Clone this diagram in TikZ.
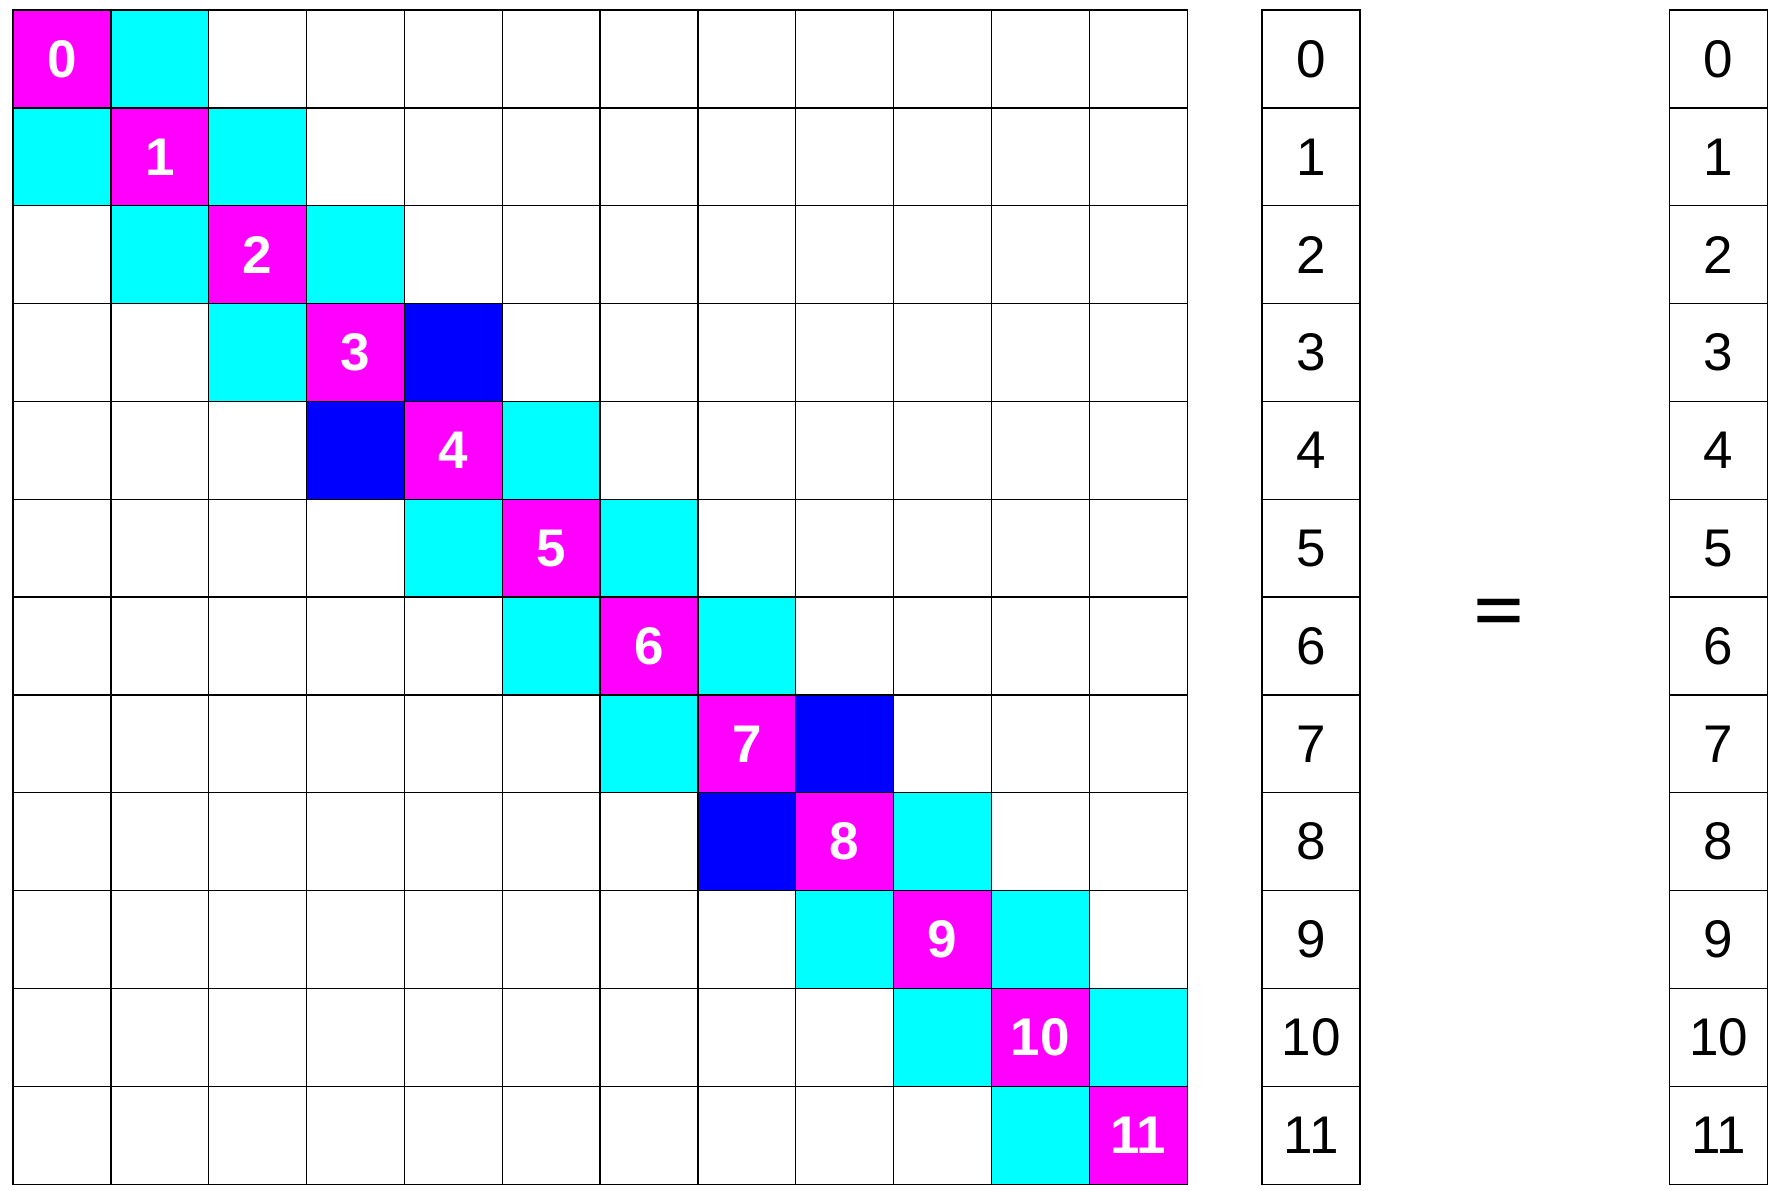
\documentclass[tikz,border=0pt]{standalone}
\usepackage{fontspec}
\setmainfont{Liberation Sans}
\newfontfamily\herosfont{TeX Gyre Heros}
\definecolor{magentaR}{RGB}{255,0,255}
\definecolor{cyanR}{RGB}{0,255,255}
\definecolor{blueR}{RGB}{0,0,255}
\begin{document}
\begin{tikzpicture}[x=1pt,y=-1pt,
  cell/.style={draw=black, line width=1.3pt, minimum width=97.85pt, minimum height=97.85pt,
    inner sep=0pt, outer sep=0pt, anchor=center, font=\fontsize{53}{60}\selectfont},
  diag/.style={text=white, font=\fontsize{53}{60}\selectfont\bfseries},
  eqsign/.style={inner sep=0pt, font=\herosfont\fontsize{94}{100}\selectfont}]
\useasboundingbox[fill=white] (0,0) rectangle (1775,1191);
\foreach \r in {0,...,11}{
  \foreach \c in {0,...,11}{
    \pgfmathtruncatemacro\d{abs(\r-\c)}
    \pgfmathtruncatemacro\m{min(\r,\c)}
    \ifnum\d=0 \def\col{magentaR}\else
      \ifnum\d=1
        \ifnum\m=3 \def\col{blueR}\else
          \ifnum\m=7 \def\col{blueR}\else \def\col{cyanR}\fi
        \fi
      \else \def\col{white}\fi
    \fi
    \ifnum\d=0
      \node[cell, fill=\col, diag] (m-\r-\c) at ({13+97.85*(\c+0.5)},{10+97.85*(\r+0.5)}) {\r};
    \else
      \node[cell, fill=\col] (m-\r-\c) at ({13+97.85*(\c+0.5)},{10+97.85*(\r+0.5)}) {};
    \fi
  }
  \node[cell] (v-\r) at (1311,{10+97.85*(\r+0.5)}) {\r};
  \node[cell] (w-\r) at (1718.5,{10+97.85*(\r+0.5)}) {\r};
}
\node[eqsign] (eq) at (1499,617) {=};
\end{tikzpicture}
\end{document}
